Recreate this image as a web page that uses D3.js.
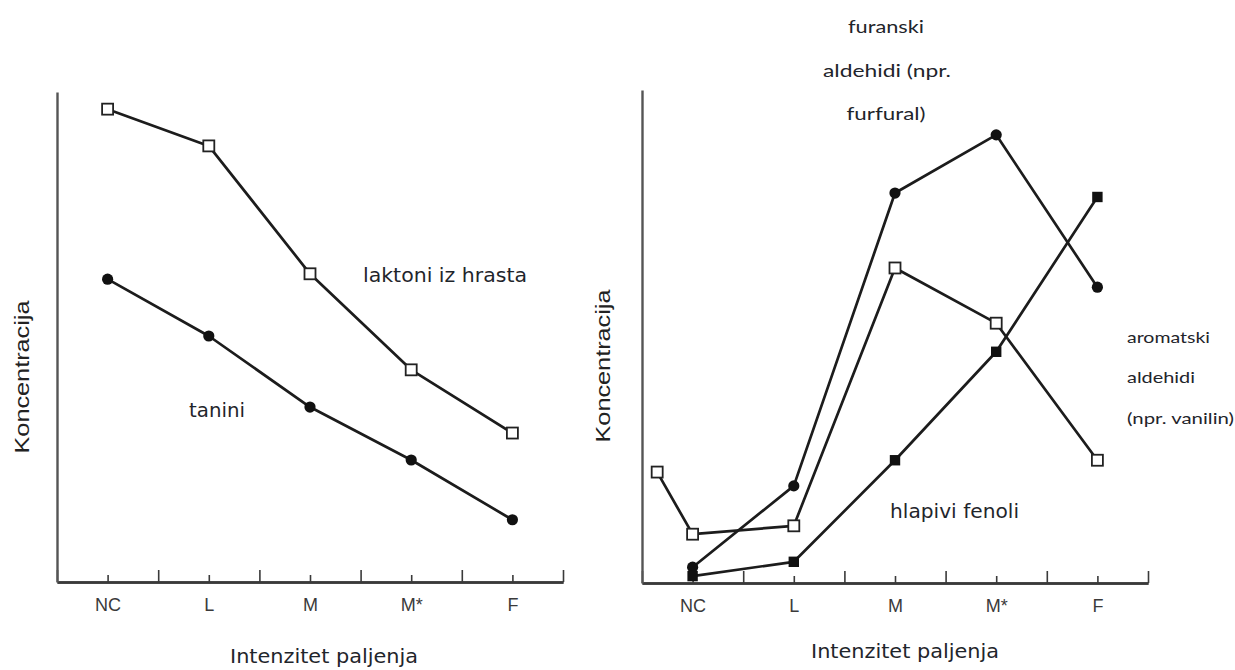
<!DOCTYPE html>
<html>
<head>
<meta charset="utf-8">
<script src="https://cdn.jsdelivr.net/npm/d3@7"></script>
<style>
  html, body { margin: 0; padding: 0; background: #fff; }
  svg { display: block; }
</style>
</head>
<body>
<svg id="chart" width="1235" height="670"></svg>
<script>
// ---- data ----
const categories = ["NC", "L", "M", "M*", "F"];
const categoryIdx = [0, 1, 2, 3, 4];
const halfSteps = [-0.5, 0.5, 1.5, 2.5, 3.5, 4.5];

// left panel
const laktoni = [96.5, 89.0, 62.9, 43.3, 30.4];
const tanini = [61.8, 50.2, 35.7, 24.9, 12.7];

// right panel
const furanski = [3.2, 19.7, 79.1, 90.9, 60.0];
const aromatskiPos = [-0.35, 0, 1, 2, 3, 4];
const aromatski = [22.5, 9.9, 11.6, 63.9, 52.7, 24.9];
const fenoli = [1.4, 4.3, 24.9, 46.9, 78.3];

const xTitle = "Intenzitet paljenja";
const yTitle = "Koncentracija";

// ---- drawing ----
const svg = d3.select("#chart");
const INK = "#1c1c1c";
const TEXT = "#1f252b";

function panel(cfg) {
  const g = svg.append("g");
  const x = d3.scaleLinear().domain([-0.5, 4.5]).range([cfg.x0, cfg.x1]);
  const y = d3.scaleLinear().domain([0, 100]).range([cfg.yBottom, cfg.yTop]);

  // half-step (taller) ticks
  const minorAxis = d3.axisBottom(x).tickValues(halfSteps).tickSizeInner(-12).tickSizeOuter(0).tickFormat("");
  const gm = g.append("g").attr("transform", `translate(0,${cfg.yBottom})`).call(minorAxis);
  // category ticks with labels
  const majorAxis = d3.axisBottom(x).tickValues(categoryIdx).tickSizeInner(-7).tickSizeOuter(0)
    .tickPadding(16).tickFormat(i => categories[i]);
  const gM = g.append("g").attr("transform", `translate(0,${cfg.yBottom})`).call(majorAxis);
  [gm, gM].forEach(a => {
    a.selectAll("path.domain").attr("stroke", "#3a3a3a").attr("stroke-width", 2.4);
    a.selectAll(".tick line").attr("stroke", "#3a3a3a").attr("stroke-width", 1.6);
  });
  gM.selectAll(".tick text")
    .attr("fill", "#3a3a3a").attr("font-family", "Liberation Sans, Arial, sans-serif")
    .attr("font-size", 18);

  // y axis (line only)
  const yAxis = d3.axisLeft(y).tickValues([]).tickSizeOuter(0);
  g.append("g").attr("transform", `translate(${cfg.x0},0)`).call(yAxis)
    .selectAll("path.domain").attr("stroke", "#555").attr("stroke-width", 2.4);

  // axis titles
  g.append("text")
    .attr("x", cfg.xTitleX).attr("y", cfg.xTitleY)
    .attr("text-anchor", "middle")
    .attr("font-family", "DejaVu Sans, sans-serif").attr("font-size", 20)
    .attr("fill", TEXT)
    .attr("textLength", 188).attr("lengthAdjust", "spacingAndGlyphs")
    .text(xTitle);
  g.append("text")
    .attr("transform", `translate(${cfg.yTitleX},${cfg.yTitleY}) rotate(-90)`)
    .attr("text-anchor", "middle")
    .attr("font-family", "Liberation Sans, Arial, sans-serif").attr("font-size", 21)
    .attr("fill", "#222")
    .attr("textLength", 153).attr("lengthAdjust", "spacingAndGlyphs")
    .text(yTitle);

  const line = d3.line().x(d => x(d[0])).y(d => y(d[1]));
  cfg.series.forEach(s => {
    const pts = s.values.map((v, i) => [s.pos ? s.pos[i] : categoryIdx[i], v]);
    g.append("path").datum(pts).attr("d", line)
      .attr("fill", "none").attr("stroke", INK).attr("stroke-width", 2.7)
      .attr("stroke-linejoin", "round");
    s.pts = pts;
  });
  cfg.series.forEach(s => {
    const m = g.append("g");
    s.pts.forEach(p => {
      const cx = x(p[0]), cy = y(p[1]);
      if (s.marker === "openSquare") {
        m.append("rect").attr("x", cx - 5.5).attr("y", cy - 5.5).attr("width", 11).attr("height", 11)
          .attr("fill", "#fff").attr("stroke", "#222").attr("stroke-width", 1.8);
      } else if (s.marker === "circle") {
        m.append("circle").attr("cx", cx).attr("cy", cy).attr("r", 5.6).attr("fill", "#111");
      } else {
        m.append("rect").attr("x", cx - 5.2).attr("y", cy - 5.2).attr("width", 10.4).attr("height", 10.4)
          .attr("fill", "#111");
      }
    });
  });

  cfg.labels.forEach(l => {
    const t = g.append("text")
      .attr("x", l.x).attr("y", l.y)
      .attr("text-anchor", l.anchor || "start")
      .attr("font-family", l.font).attr("font-size", l.size)
      .attr("fill", TEXT)
      .text(l.text);
    if (l.w) t.attr("textLength", l.w).attr("lengthAdjust", "spacingAndGlyphs");
  });
}

panel({
  x0: 57, x1: 563, yBottom: 582, yTop: 92,
  xTitleX: 324, xTitleY: 663,
  yTitleX: 29, yTitleY: 377,
  series: [
    { values: laktoni, marker: "openSquare" },
    { values: tanini, marker: "circle" }
  ],
  labels: [
    { text: "laktoni iz hrasta", x: 363, y: 282, size: 19, font: "DejaVu Sans, sans-serif", w: 164 },
    { text: "tanini", x: 189, y: 417, size: 19, font: "DejaVu Sans, sans-serif", w: 56 }
  ]
});

panel({
  x0: 642, x1: 1148, yBottom: 583, yTop: 90,
  xTitleX: 905, xTitleY: 658,
  yTitleX: 610, yTitleY: 366,
  series: [
    { values: furanski, marker: "circle" },
    { values: aromatski, pos: aromatskiPos, marker: "openSquare" },
    { values: fenoli, marker: "filledSquare" }
  ],
  labels: [
    { text: "furanski", x: 886, y: 33, anchor: "middle", size: 17, font: "Lato, sans-serif", w: 76 },
    { text: "aldehidi (npr.", x: 887, y: 77, anchor: "middle", size: 17, font: "Lato, sans-serif", w: 128 },
    { text: "furfural)", x: 886, y: 120, anchor: "middle", size: 17, font: "Lato, sans-serif", w: 79 },
    { text: "aromatski", x: 1127, y: 343, size: 15, font: "Lato, sans-serif", w: 83 },
    { text: "aldehidi", x: 1127, y: 383, size: 15, font: "Lato, sans-serif", w: 68 },
    { text: "(npr. vanilin)", x: 1127, y: 424, size: 15, font: "Lato, sans-serif", w: 107 },
    { text: "hlapivi fenoli", x: 890, y: 518, size: 19, font: "DejaVu Sans, sans-serif", w: 129 }
  ]
});
</script>
</body>
</html>
